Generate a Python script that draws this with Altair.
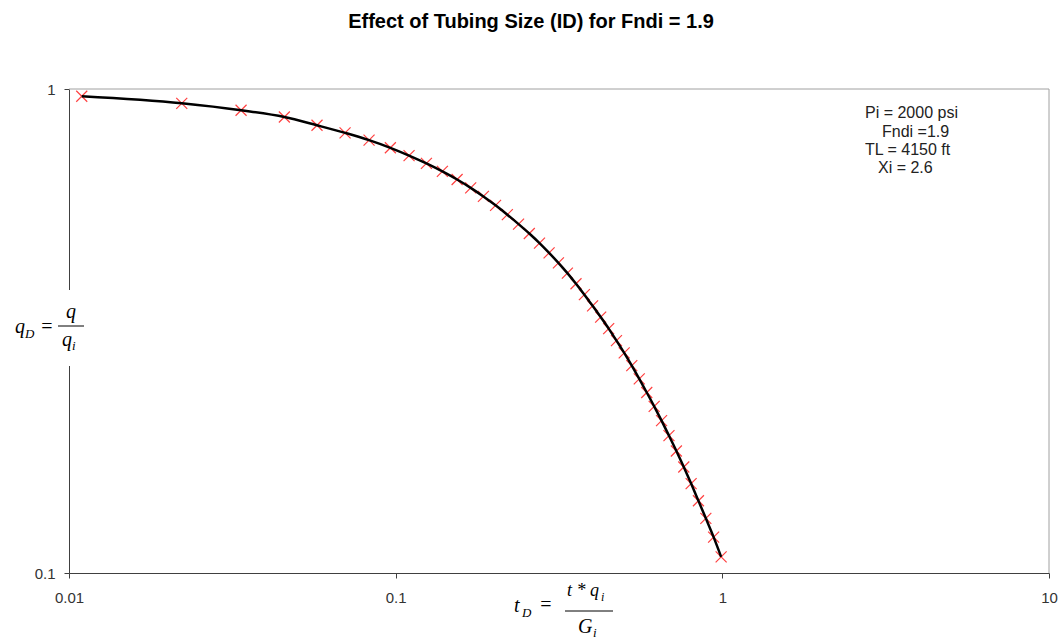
import altair as alt
import pandas as pd

# Dimensionless time t_D = t*q_i/G_i and normalized rate q_D = q/q_i
t_d = [0.01094, 0.02214, 0.03363, 0.04563, 0.05744, 0.0700, 0.0829, 0.09633, 0.1099, 0.1242,
       0.1390, 0.1542, 0.1697, 0.1856, 0.2022, 0.2197, 0.2378, 0.2565, 0.2756, 0.2949,
       0.3149, 0.3355, 0.3565, 0.3782, 0.4007, 0.4242, 0.4488, 0.4742, 0.5007, 0.5282,
       0.5568, 0.5870, 0.6185, 0.6516, 0.6865, 0.7233, 0.7620, 0.8025, 0.8450, 0.8902,
       0.9405, 0.9916]
q_d = [0.9659, 0.9342, 0.9037, 0.8753, 0.8414, 0.8118, 0.7843, 0.7560, 0.7286, 0.7018,
       0.6756, 0.6501, 0.6249, 0.5998, 0.5750, 0.5500, 0.5259, 0.5029, 0.4805, 0.4586,
       0.4373, 0.4164, 0.3959, 0.3759, 0.3565, 0.3379, 0.3199, 0.3021, 0.2849, 0.2682,
       0.2518, 0.2360, 0.2210, 0.2064, 0.1922, 0.1787, 0.1656, 0.1530, 0.1410, 0.1297,
       0.1186, 0.1080]

x_ticks = [0.01, 0.1, 1, 10]
y_ticks = [0.1, 1]

title_text = "Effect of Tubing Size (ID) for Fndi = 1.9"
param_lines = ["Pi = 2000 psi", "Fndi =1.9", "TL = 4150 ft", "Xi = 2.6"]

W, H = 980, 484
PAD_L, PAD_T, PAD_R, PAD_B = 69, 89, 13, 68
SANS = "Liberation Sans, Arial, sans-serif"
SERIF = "Liberation Serif, Times New Roman, serif"

df = pd.DataFrame({"t_d": t_d, "q_d": q_d})

x_enc = alt.X(
    "t_d:Q",
    scale=alt.Scale(type="log", domain=[0.01, 10], nice=False),
    axis=alt.Axis(values=x_ticks, format="~g", title=None, grid=False,
                  tickSize=5, labelPadding=12, labelFontSize=15, labelFont=SANS,
                  labelColor="#333333", domainColor="#404040", tickColor="#404040",
                  labelFlush=False),
)
y_enc = alt.Y(
    "q_d:Q",
    scale=alt.Scale(type="log", domain=[0.1, 1], nice=False),
    axis=alt.Axis(values=y_ticks, format="~g", title=None, grid=False,
                  tickSize=5, labelPadding=9, labelFontSize=15, labelFont=SANS,
                  labelColor="#333333", domainColor="#404040", tickColor="#404040",
                  labelFlush=False),
)

base = alt.Chart(df)

markers = base.mark_point(
    shape="M-1,-1L1,1M-1,1L1,-1", filled=False, color="#ff2020",
    strokeWidth=1.2, size=121, opacity=0.85,
).encode(x=x_enc, y=y_enc)

curve = base.mark_line(color="black", strokeWidth=2.5, interpolate="monotone").encode(
    x="t_d:Q", y="q_d:Q"
)

one = pd.DataFrame({"k": [0]})


def label(text, x, y, size, font=SANS, italic=False, bold=False, align="left",
          baseline="alphabetic", color="black"):
    kw = dict(text=text, fontSize=size, font=font, align=align, baseline=baseline,
              color=color)
    if italic:
        kw["fontStyle"] = "italic"
    if bold:
        kw["fontWeight"] = "bold"
    return alt.Chart(one).mark_text(**kw).encode(
        x=alt.value(x - PAD_L), y=alt.value(y - PAD_T)
    )


def hline(x1, x2, y, color="black", width=1.0):
    return alt.Chart(one).mark_rule(color=color, strokeWidth=width).encode(
        x=alt.value(x1 - PAD_L), x2=alt.value(x2 - PAD_L), y=alt.value(y - PAD_T)
    )


# light frame on top and right of the plot area
frame_top = alt.Chart(one).mark_rule(color="#a0a0a0", strokeWidth=1).encode(
    x=alt.value(0), x2=alt.value(W), y=alt.value(0)
)
frame_right = alt.Chart(one).mark_rule(color="#a0a0a0", strokeWidth=1).encode(
    x=alt.value(W), y=alt.value(0), y2=alt.value(H)
)

# white box behind the y-axis title
ybox = alt.Chart(one).mark_rect(color="white").encode(
    x=alt.value(58 - PAD_L), x2=alt.value(84 - PAD_L),
    y=alt.value(290 - PAD_T), y2=alt.value(366 - PAD_T),
)

title = label(title_text, 531, 22, 20, bold=True, align="center", baseline="middle")

params = [
    label(param_lines[0], 865, 113, 16, baseline="middle", color="#222222"),
    label(param_lines[1], 882, 132, 16, baseline="middle", color="#222222"),
    label(param_lines[2], 865, 150, 16, baseline="middle", color="#222222"),
    label(param_lines[3], 878, 168, 16, baseline="middle", color="#222222"),
]

# y-axis title: q_D = q / q_i
ytitle = [
    label("q", 15, 333, 20, font=SERIF, italic=True),
    label("D", 25, 338, 13, font=SERIF, italic=True),
    label("=", 47, 333, 20, font=SERIF, align="center"),
    label("q", 66, 318, 20, font=SERIF, italic=True),
    hline(58, 84, 326),
    label("q", 62, 346, 20, font=SERIF, italic=True),
    label("i", 72, 350, 13, font=SERIF, italic=True),
]

# x-axis title: t_D = t * q_i / G_i
xtitle = [
    label("t", 514, 612, 20, font=SERIF, italic=True),
    label("D", 522, 617, 13, font=SERIF, italic=True),
    label("=", 546, 611, 20, font=SERIF, align="center"),
    label("t * q", 567, 596, 18, font=SERIF, italic=True),
    label("i", 601, 601, 12, font=SERIF, italic=True),
    hline(565, 613, 611),
    label("G", 578, 633, 20, font=SERIF, italic=True),
    label("i", 593, 637, 13, font=SERIF, italic=True),
]

chart = alt.layer(
    markers, curve, frame_top, frame_right, ybox, title, *params, *ytitle, *xtitle
).properties(
    width=W, height=H,
    autosize=alt.AutoSizeParams(type="none"),
    padding={"left": PAD_L, "top": PAD_T, "right": PAD_R, "bottom": PAD_B},
    background="white",
).configure_view(stroke=None)

chart.save("out.html", embed_options={"renderer": "svg", "actions": False})
